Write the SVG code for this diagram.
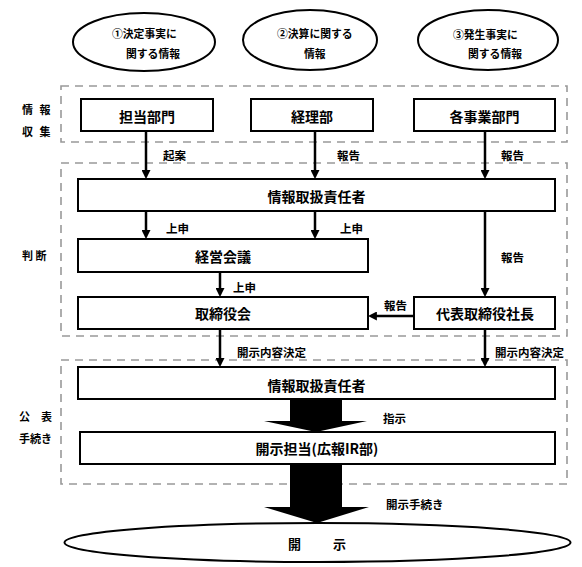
<svg xmlns="http://www.w3.org/2000/svg" width="582" height="567" viewBox="0 0 582 567">
<defs>
<style>
text{font-family:"Noto Sans CJK JP","Noto Sans CJK SC",sans-serif;font-weight:bold;fill:#000;dominant-baseline:central}
.box{fill:#fff;stroke:#000;stroke-width:2}
.ell{fill:#fff;stroke:#000;stroke-width:2}
.dash{fill:none;stroke:#999;stroke-width:1.6;stroke-dasharray:8 6}
.bt{font-size:14px;text-anchor:middle}
.lb{font-size:11.5px}
.et{font-size:10.8px}
.side{font-size:11px}
.ln{stroke:#000;stroke-width:2.5;fill:none;marker-end:url(#ah)}
.blk{fill:#000}
</style>
<marker id="ah" viewBox="0 0 10 10" refX="1" refY="5" markerWidth="9" markerHeight="9" markerUnits="userSpaceOnUse" orient="auto">
<path d="M0,0 L10,5 L0,10 Z" fill="#000"/>
</marker>
</defs>
<rect width="582" height="567" fill="#fff"/>

<g id="groups">
<rect class="dash" x="61" y="86" width="506" height="56"/>
<rect class="dash" x="61" y="163" width="506" height="173"/>
<rect class="dash" x="61" y="360" width="506" height="124"/>
</g>

<g id="side-labels">
<text class="side" x="22" y="109" style="letter-spacing:2px">情 報</text>
<text class="side" x="22" y="131" style="letter-spacing:2px">収 集</text>
<text class="side" x="22" y="255">判 断</text>
<text class="side" x="19" y="416">公　表</text>
<text class="side" x="19" y="438">手続き</text>
</g>

<g id="info1">
<ellipse class="ell" cx="144" cy="42" rx="71" ry="29"/>
<text class="et" x="112" y="33">①決定事実に</text>
<text class="et" x="126" y="53">関する情報</text>
</g>
<g id="info2">
<ellipse class="ell" cx="310" cy="40" rx="67" ry="30"/>
<text class="et" x="277" y="33">②決算に関する</text>
<text class="et" x="304" y="53">情報</text>
</g>
<g id="info3">
<ellipse class="ell" cx="488" cy="40" rx="70" ry="30"/>
<text class="et" x="453" y="34">③発生事実に</text>
<text class="et" x="468" y="53">関する情報</text>
</g>

<g id="connectors">
<line class="ln" x1="146" y1="131" x2="146" y2="171"/>
<line class="ln" x1="315" y1="131" x2="315" y2="171"/>
<line class="ln" x1="485" y1="131" x2="485" y2="171"/>
<line class="ln" x1="146" y1="211" x2="146" y2="231"/>
<line class="ln" x1="315" y1="211" x2="315" y2="231"/>
<line class="ln" x1="220" y1="272" x2="220" y2="289"/>
<line class="ln" x1="485" y1="211" x2="485" y2="289"/>
<line class="ln" x1="414" y1="316" x2="376" y2="316"/>
<line class="ln" x1="220" y1="329" x2="220" y2="359"/>
<line class="ln" x1="485" y1="329" x2="485" y2="359"/>
<polygon class="blk" points="290,400 342,400 342,421 367,421 316,432 264,421 290,421"/>
<polygon class="blk" points="290,464 342,464 342,507 369,507 317,523 264,507 290,507"/>
<text class="lb" x="163" y="155">起案</text>
<text class="lb" x="337" y="155">報告</text>
<text class="lb" x="501" y="155">報告</text>
<text class="lb" x="166" y="228">上申</text>
<text class="lb" x="340" y="228">上申</text>
<text class="lb" x="501" y="257">報告</text>
<text class="lb" x="233" y="287">上申</text>
<text class="lb" x="384" y="305">報告</text>
<text class="lb" x="237" y="352">開示内容決定</text>
<text class="lb" x="495" y="352">開示内容決定</text>
<text class="lb" x="383" y="418">指示</text>
<text class="lb" x="386" y="504">開示手続き</text>
</g>

<g id="tanto">
<rect class="box" x="81" y="99" width="132" height="32"/>
<text class="bt" x="147" y="116">担当部門</text>
</g>
<g id="keiri">
<rect class="box" x="251" y="99" width="122" height="32"/>
<text class="bt" x="312" y="116">経理部</text>
</g>
<g id="jigyo">
<rect class="box" x="414" y="99" width="141" height="32"/>
<text class="bt" x="484.5" y="116">各事業部門</text>
</g>
<g id="sekinin1">
<rect class="box" x="78" y="179" width="477" height="32"/>
<text class="bt" x="316.5" y="196">情報取扱責任者</text>
</g>
<g id="keiei">
<rect class="box" x="78" y="239" width="290" height="33"/>
<text class="bt" x="223" y="256">経営会議</text>
</g>
<g id="torishimariyaku">
<rect class="box" x="78" y="297" width="290" height="32"/>
<text class="bt" x="223" y="313">取締役会</text>
</g>
<g id="shacho">
<rect class="box" x="414" y="297" width="141" height="32"/>
<text class="bt" x="485" y="313">代表取締役社長</text>
</g>
<g id="sekinin2">
<rect class="box" x="78" y="367" width="477" height="32"/>
<text class="bt" x="316.5" y="385">情報取扱責任者</text>
</g>
<g id="kaiji-tanto">
<rect class="box" x="80" y="432" width="475" height="32"/>
<text class="bt" x="317" y="448">開示担当(広報IR部)</text>
</g>
<g id="kaiji">
<ellipse class="ell" cx="317.5" cy="542.5" rx="253" ry="19.5"/>
<text x="288" y="543" style="font-size:13px;letter-spacing:2px">開　　示</text>
</g>
</svg>
